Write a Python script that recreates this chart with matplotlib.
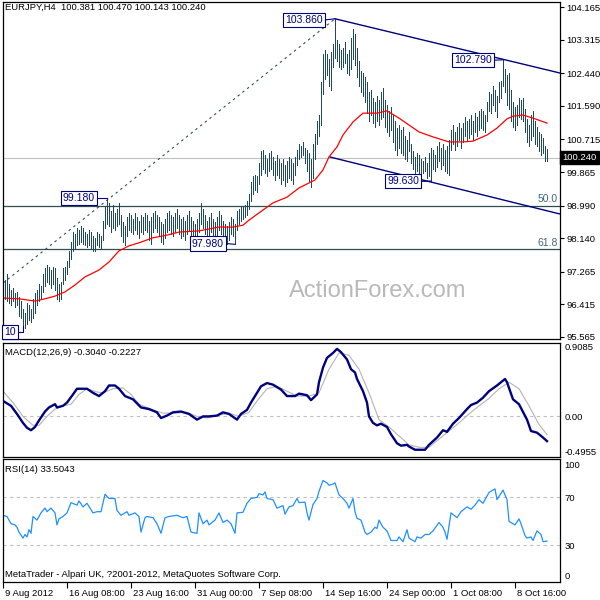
import matplotlib
matplotlib.use("Agg")
import matplotlib.pyplot as plt
from matplotlib.transforms import ScaledTranslation, blended_transform_factory

plt.rcParams["font.family"] = ["Liberation Sans", "DejaVu Sans"]
plt.rcParams["font.size"] = 6.8

# ---- EURJPY H4 price bars (high / low per bar) ----
bar_high = [
    97.30, 97.05, 97.20, 96.95, 96.80, 96.85, 96.70, 96.75, 96.60, 96.50,
    96.30, 96.20, 96.45, 96.40, 96.30, 96.55, 96.70, 96.80, 96.95, 96.90,
    97.20, 97.35, 97.45, 97.40, 97.30, 97.40, 97.35, 97.10, 96.95, 97.00,
    97.35, 97.40, 97.55, 97.80, 98.05, 98.30, 98.25, 98.40, 98.35, 98.45,
    98.40, 98.30, 98.25, 98.35, 98.30, 98.20, 98.15, 98.30, 98.25, 98.20,
    98.60, 98.95, 99.18, 99.05, 98.85, 99.00, 98.80, 98.90, 99.05, 98.75,
    98.55, 98.45, 98.70, 98.80, 98.75, 98.65, 98.80, 98.70, 98.60, 98.75,
    98.70, 98.80, 98.75, 98.60, 98.70, 98.80, 98.85, 98.75, 98.70, 98.55,
    98.50, 98.65, 98.80, 98.85, 98.75, 98.70, 98.80, 98.90, 98.75, 98.65,
    98.70, 98.60, 98.75, 98.85, 98.70, 98.60, 98.50, 98.65, 98.80, 99.05,
    98.90, 98.75, 98.60, 98.70, 98.80, 98.65, 98.55, 98.70, 98.85, 98.75,
    98.60, 98.50, 98.45, 98.55, 98.70, 98.65, 98.50, 98.85, 98.90, 98.95,
    98.95, 99.00, 99.10, 99.30, 99.60, 99.75, 99.80, 99.75, 100.10, 100.40,
    100.45, 100.30, 100.20, 100.35, 100.40, 100.25, 100.15, 100.30, 100.20, 100.10,
    100.20, 100.05, 100.15, 100.25, 100.20, 100.10, 100.25, 100.45, 100.60, 100.55,
    100.65, 100.50, 100.45, 100.35, 100.20, 100.60, 100.85, 101.20, 101.35, 102.20,
    102.95, 103.05, 102.95, 102.80, 103.00, 103.20, 103.86, 103.30, 103.20, 103.05,
    103.10, 103.25, 102.95, 103.05, 103.35, 103.60, 103.45, 103.10, 102.75, 102.50,
    102.45, 102.35, 102.20, 101.95, 102.00, 101.80, 101.70, 101.85, 101.75, 101.95,
    102.05, 101.75, 101.60, 101.45, 101.55, 101.35, 101.20, 101.00, 101.10, 100.95,
    101.05, 100.80, 100.70, 100.90, 100.60, 100.40, 100.25, 100.35, 100.30, 100.20,
    100.15, 100.25, 100.10, 100.35, 100.50, 100.45, 100.30, 100.55, 100.65, 100.50,
    100.60, 100.45, 100.55, 100.70, 100.95, 101.10, 100.90, 101.05, 101.15, 101.00,
    101.15, 101.30, 101.20, 101.25, 101.35, 101.20, 101.40, 101.30, 101.45, 101.50,
    101.45, 101.35, 101.70, 101.95, 101.90, 102.10, 102.00, 101.85, 102.20, 102.25,
    102.79, 102.55, 102.40, 102.45, 102.00, 101.70, 101.55, 101.60, 101.80, 101.75,
    101.80, 101.50, 101.25, 101.10, 101.35, 101.45, 101.20, 101.05, 100.90, 100.85,
    100.75, 100.55, 100.47,
]
bar_low = [
    96.90, 96.55, 96.50, 96.45, 96.40, 96.50, 96.35, 96.40, 96.10, 96.05,
    95.85, 95.80, 95.90, 96.00, 95.95, 96.05, 96.20, 96.40, 96.50, 96.55,
    96.75, 96.90, 97.00, 96.95, 96.85, 96.95, 96.80, 96.55, 96.50, 96.55,
    96.95, 97.05, 97.20, 97.40, 97.60, 97.80, 97.85, 97.95, 98.00, 98.05,
    98.00, 97.95, 97.90, 97.95, 97.85, 97.80, 97.80, 97.95, 97.90, 97.85,
    98.10, 98.40, 98.50, 98.45, 98.30, 98.40, 98.35, 98.45, 98.50, 98.20,
    98.05, 97.95, 98.20, 98.35, 98.30, 98.25, 98.35, 98.25, 98.15, 98.30,
    98.25, 98.35, 98.30, 98.10, 98.00, 98.30, 98.40, 98.30, 98.20, 98.05,
    98.00, 98.15, 98.30, 98.35, 98.25, 98.20, 98.30, 98.40, 98.25, 98.15,
    98.20, 98.10, 98.25, 98.35, 98.20, 98.10, 98.05, 98.15, 98.30, 98.50,
    98.40, 98.25, 98.10, 98.20, 98.30, 98.15, 98.05, 98.20, 98.35, 98.25,
    98.15, 98.05, 98.00, 98.10, 98.25, 98.20, 97.98, 98.35, 98.50, 98.60,
    98.65, 98.70, 98.75, 98.90, 99.10, 99.30, 99.40, 99.35, 99.55, 99.80,
    99.95, 99.85, 99.75, 99.90, 99.95, 99.80, 99.65, 99.80, 99.70, 99.55,
    99.65, 99.50, 99.60, 99.70, 99.65, 99.55, 99.80, 100.05, 100.20, 100.25,
    100.30, 100.10, 99.90, 99.60, 99.47, 99.70, 100.20, 100.60, 100.80, 101.10,
    101.90, 102.30, 102.40, 102.10, 102.00, 102.60, 102.85, 102.75, 102.60, 102.55,
    102.60, 102.70, 102.45, 102.40, 102.55, 102.80, 102.65, 102.35, 102.10, 101.95,
    101.85, 101.70, 101.40, 101.20, 101.35, 101.15, 101.05, 101.20, 101.10, 101.25,
    101.30, 101.05, 100.90, 100.80, 100.95, 100.65, 100.45, 100.30, 100.50, 100.35,
    100.30, 100.20, 100.15, 100.40, 100.10, 99.95, 99.85, 99.90, 99.80, 99.75,
    99.85, 99.90, 99.70, 99.75, 99.63, 99.95, 99.90, 100.00, 100.15, 99.95,
    100.05, 99.90, 99.85, 99.80, 100.45, 100.60, 100.45, 100.55, 100.70, 100.50,
    100.65, 100.80, 100.70, 100.75, 100.85, 100.70, 100.90, 100.80, 100.95, 101.00,
    100.95, 100.90, 101.20, 101.45, 101.40, 101.60, 101.45, 101.30, 101.70, 101.80,
    102.10, 101.95, 101.60, 101.50, 101.20, 101.05, 100.95, 101.10, 101.30, 101.25,
    101.20, 100.90, 100.65, 100.55, 100.70, 100.80, 100.60, 100.55, 100.40, 100.30,
    100.35, 100.15, 100.143,
]

# moving average (red), sampled at bar numbers
ma_bar = [0, 8, 16, 21, 26, 31, 36, 41, 48, 53, 58, 63, 68, 75, 82, 88, 98,
          108, 115, 120, 123, 128, 135, 142, 148, 153, 156, 160, 163, 167, 170,
          175, 180, 187, 192, 198, 208, 215, 223, 230, 235, 242, 247, 252, 255,
          260, 265, 272]
ma_price = [96.58, 96.56, 96.50, 96.56, 96.63, 96.74, 96.92, 97.13, 97.31,
            97.52, 97.81, 97.94, 98.02, 98.15, 98.22, 98.30, 98.33, 98.43,
            98.43, 98.48, 98.61, 98.80, 99.06, 99.21, 99.45, 99.58, 99.66,
            99.92, 100.26, 100.52, 100.83, 101.17, 101.40, 101.40, 101.46,
            101.27, 100.91, 100.78, 100.65, 100.65, 100.67, 100.83, 101.01,
            101.25, 101.32, 101.35, 101.27, 101.14]

price_ticks = [104.165, 103.315, 102.440, 101.590, 100.715, 99.865, 98.990,
               98.140, 97.265, 96.415, 95.565]
last_price = 100.240
fib_levels = [98.99, 97.85]
fib_names = ["50.0", "61.8"]

# ---- MACD(12,26,9) ----
macd_bar = [0, 4, 7, 10, 12, 14, 16, 18, 21, 23, 26, 27, 30, 32, 35, 37, 42,
            45, 48, 51, 53, 56, 58, 61, 65, 69, 73, 77, 79, 82, 85, 89, 93, 97,
            100, 103, 107, 110, 113, 117, 119, 122, 124, 127, 129, 132, 135,
            139, 142, 146, 148, 152, 154, 157, 158, 160, 162, 165, 167, 169,
            172, 174, 176, 177, 180, 182, 183, 185, 187, 189, 192, 194, 197,
            199, 202, 203, 206, 208, 211, 213, 217, 220, 222, 225, 228, 232,
            234, 237, 240, 243, 247, 249, 251, 252, 255, 258, 262, 264, 267,
            270, 272]
macd_main = [0.19, 0.13, 0.03, -0.08, -0.14, -0.17, -0.13, -0.05, 0.06, 0.11,
             0.15, 0.11, 0.13, 0.17, 0.27, 0.34, 0.34, 0.29, 0.25, 0.31, 0.38,
             0.38, 0.34, 0.25, 0.21, 0.11, 0.09, 0.05, -0.02, 0.01, 0.05, 0.06,
             0.03, -0.04, 0.00, 0.00, 0.01, 0.05, 0.03, -0.04, 0.03, 0.08,
             0.17, 0.29, 0.37, 0.41, 0.39, 0.33, 0.25, 0.25, 0.28, 0.26, 0.20,
             0.27, 0.42, 0.60, 0.72, 0.78, 0.83, 0.79, 0.70, 0.58, 0.54, 0.46,
             0.31, 0.17, 0.00, -0.08, -0.11, -0.09, -0.13, -0.22, -0.33, -0.36,
             -0.35, -0.37, -0.41, -0.41, -0.41, -0.35, -0.26, -0.17, -0.19,
             -0.09, -0.02, 0.09, 0.14, 0.17, 0.23, 0.31, 0.38, 0.42, 0.46,
             0.42, 0.21, 0.15, -0.04, -0.18, -0.20, -0.26, -0.304]
signal_bar = [0, 5, 10, 15, 18, 22, 26, 30, 34, 38, 42, 47, 50, 55, 60, 64,
              68, 75, 80, 85, 92, 97, 102, 107, 113, 118, 123, 127, 132, 137,
              142, 147, 153, 158, 163, 168, 173, 178, 183, 188, 193, 198, 203,
              208, 213, 218, 223, 228, 233, 238, 243, 248, 253, 258, 263, 268,
              272]
signal_line = [0.31, 0.17, 0.00, -0.11, -0.11, 0.00, 0.09, 0.13, 0.15, 0.27,
               0.34, 0.30, 0.29, 0.34, 0.35, 0.27, 0.15, 0.08, 0.04, 0.04,
               0.05, 0.00, -0.02, 0.01, 0.04, 0.00, 0.05, 0.19, 0.34, 0.37,
               0.31, 0.25, 0.25, 0.29, 0.58, 0.78, 0.75, 0.58, 0.29, -0.04,
               -0.13, -0.24, -0.35, -0.38, -0.38, -0.28, -0.18, -0.08, 0.03,
               0.13, 0.22, 0.34, 0.42, 0.34, 0.13, -0.10, -0.2227]
macd_ticks = [0.9085, 0.0, -0.4955]
macd_tick_labels = ["0.9085", "0.00", "-0.4955"]

# ---- RSI(14) ----
rsi_bar = [0, 2, 4, 6, 7, 8, 10, 11, 12, 13, 14, 15, 17, 19, 21, 22, 24, 26,
           27, 28, 30, 32, 34, 37, 38, 40, 42, 45, 47, 49, 51, 53, 56, 57, 59,
           62, 63, 66, 68, 69, 71, 72, 75, 77, 79, 81, 83, 87, 90, 92, 94, 97,
           98, 100, 102, 103, 106, 108, 110, 112, 114, 116, 117, 120, 122, 124,
           127, 128, 130, 131, 132, 135, 137, 140, 141, 143, 145, 147, 148,
           151, 152, 153, 155, 157, 158, 160, 162, 163, 165, 166, 168, 170,
           172, 173, 175, 176, 177, 179, 181, 182, 184, 186, 187, 188, 190,
           192, 194, 197, 198, 200, 202, 203, 206, 207, 209, 211, 213, 215,
           218, 220, 221, 222, 224, 227, 229, 232, 234, 236, 238, 240, 242,
           243, 246, 247, 250, 252, 253, 256, 258, 259, 261, 262, 264, 265,
           267, 269, 270, 272]
rsi_value = [55, 54, 48, 47, 45, 41, 36, 39, 37, 43, 40, 54, 51, 57, 61, 58,
             61, 57, 47, 52, 54, 57, 65.5, 63.5, 67, 62, 65, 57, 58, 58, 72.5,
             69, 69, 59, 55, 58, 55, 57, 54, 41, 53, 54, 53, 48, 40, 53, 54,
             55, 53, 54, 41, 40, 57, 48, 51, 47, 51, 57, 49, 51, 48, 40, 57,
             57.5, 65, 69, 70, 73, 72, 74.5, 69, 68, 61, 63, 56, 62, 63, 69,
             65.5, 66, 57, 51, 64, 69, 75, 84, 82, 80, 81, 82, 72, 69, 65, 61,
             69, 58, 52.5, 51, 41, 39, 41, 45, 44, 51, 45, 42, 34, 34, 37, 33,
             43, 36, 33, 37, 36, 39, 39, 42, 49, 45, 41, 35, 57, 53, 58, 62,
             60, 63.5, 68, 65, 71, 74, 77, 68, 76, 68, 50, 47, 52, 48, 38, 36,
             37, 34, 42, 39, 33, 33.5]
rsi_ticks = [100, 70, 30, 0]
rsi_levels = [70, 30]

date_bars = [0, 32, 64, 96, 128, 160, 192, 224, 256]
date_labels = ["9 Aug 2012", "16 Aug 08:00", "23 Aug 16:00", "31 Aug 00:00",
               "7 Sep 08:00", "14 Sep 16:00", "24 Sep 00:00", "1 Oct 08:00",
               "8 Oct 16:00"]

BAR_COLOR = "#1f4a5c"
NAVY = "#000080"

fig = plt.figure(figsize=(6, 6), dpi=100)


def panel(top, bottom, left=2.7, right=560):
    return fig.add_axes([left / 600, 1 - bottom / 600,
                         (right - left) / 600, (bottom - top) / 600])


ax = panel(1.5, 339)
ax_m = panel(342.5, 456.7)
ax_r = panel(459, 581.7)
xlim = (-0.15, 278.5)
for a in (ax, ax_m, ax_r):
    a.set_xlim(*xlim)
    a.set_xticks([])
    a.yaxis.tick_right()
    for s in a.spines.values():
        s.set_linewidth(0.9)
        s.set_color("black")

# ---- main price panel ----
ax.set_ylim(95.512, 104.31)
ax.axhline(last_price, color="#c0c0c0", lw=0.8)
for lvl, name in zip(fib_levels, fib_names):
    ax.axhline(lvl, color="#2f4f4f", lw=0.9)
    ax.text(277.5, lvl + 0.04, name, ha="right", va="bottom",
            color="#41657c", fontsize=7.5)

# fibonacci base (dotted)
ax.plot([0, 166], [96.97, 103.86], color="#2f4f4f", lw=0.8,
        ls=(0, (2.2, 3.2)))
# descending channel
ax.plot([166, 278.5], [103.86, 102.445], color=NAVY, lw=1.0)
ax.plot([163.5, 278.5], [100.256, 98.77], color=NAVY, lw=1.0)

ax.vlines(range(len(bar_high)), bar_low, bar_high, color=BAR_COLOR,
          lw=0.5, antialiased=False)
ax.plot(ma_bar, ma_price, color="red", lw=0.9)

box = dict(boxstyle="square,pad=0.2", fc="white", ec=NAVY, lw=0.8)
labels = [("103.860", 160, 103.83, [(161, 103.83), (166, 103.86)]),
          ("102.790", 244.5, 102.78, [(245.5, 102.78), (250, 102.79)]),
          ("99.180", 46, 99.19, [(47, 99.19), (52, 99.19), (52, 99.18)]),
          ("97.980", 110.5, 98.0, [(111.5, 98.0), (116, 97.98)]),
          ("99.630", 208, 99.62, [(209, 99.62), (214, 99.63)])]
for txt, x, y, conn in labels:
    ax.plot([c[0] for c in conn], [c[1] for c in conn], color=NAVY, lw=0.8)
    ax.text(x, y, txt, ha="right", va="center", color=NAVY, fontsize=7.5,
            bbox=box, zorder=5)
ax.plot([5, 10, 10], [95.695, 95.695, 95.85], color=NAVY, lw=0.8)
ax.text(0.7, 95.695, "10", ha="left", va="center", color=NAVY, fontsize=7.5,
        bbox=box, zorder=5)

ax.set_yticks(price_ticks)
ax.set_yticklabels([f"{v:.3f}" for v in price_ticks])
ax.tick_params(axis="y", length=3, width=0.8, pad=1.5, labelsize=6.8)

trans = blended_transform_factory(ax.transAxes, ax.transData)
ax.text(1.0, last_price, "100.240", transform=trans + ScaledTranslation(
    2.5 / 100, 0, fig.dpi_scale_trans), ha="left", va="center",
    color="white", fontsize=6.8, clip_on=False,
    bbox=dict(boxstyle="square,pad=0.25", fc="black", ec="black"))

ax.text(0.004, 0.995, "EURJPY,H4  100.381 100.470 100.143 100.240",
        transform=ax.transAxes, ha="left", va="top", fontsize=6.8)
ax.text(0.673, 0.142, "ActionForex.com", transform=ax.transAxes,
        ha="center", va="center", fontsize=17, color="#b9b9b9")

# ---- MACD panel ----
ax_m.set_ylim(-0.4955, 0.9085)
ax_m.axhline(0, color="#c0c0c0", lw=0.8, ls=(0, (3, 3)))
ax_m.plot(signal_bar, signal_line, color="#b4b4b4", lw=0.8)
ax_m.plot(macd_bar, macd_main, color=NAVY, lw=1.7)
ax_m.set_yticks(macd_ticks)
ax_m.set_yticklabels(macd_tick_labels)
ax_m.tick_params(axis="y", length=0, pad=3, labelsize=6.8)
tl = ax_m.get_yticklabels()
tl[0].set_va("top")
tl[-1].set_va("bottom")
ax_m.text(0.004, 0.955, "MACD(12,26,9) -0.3040 -0.2227",
          transform=ax_m.transAxes, ha="left", va="top", fontsize=6.8)

# ---- RSI panel ----
ax_r.set_ylim(-0.33, 101.9)
for lvl in rsi_levels:
    ax_r.axhline(lvl, color="#c0c0c0", lw=0.8, ls=(0, (3, 3)))
ax_r.plot(rsi_bar, rsi_value, color="#1e90ff", lw=0.9)
ax_r.set_yticks(rsi_ticks)
ax_r.set_yticklabels([str(v) for v in rsi_ticks])
ax_r.tick_params(axis="y", length=0, pad=3, labelsize=6.8)
tl = ax_r.get_yticklabels()
tl[0].set_va("top")
tl[-1].set_va("bottom")
ax_r.text(0.004, 0.955, "RSI(14) 33.5043", transform=ax_r.transAxes,
          ha="left", va="top", fontsize=6.8)
ax_r.text(0.004, 0.02,
          "MetaTrader - Alpari UK, ?2001-2012, MetaQuotes Software Corp.",
          transform=ax_r.transAxes, ha="left", va="bottom", fontsize=6.8)

ax_r.set_xticks(date_bars)
ax_r.set_xticklabels(date_labels)
ax_r.tick_params(axis="x", length=4, width=0.8, pad=1.5, labelsize=6.8)
for lab in ax_r.get_xticklabels():
    lab.set_ha("left")
    lab.set_transform(lab.get_transform() + ScaledTranslation(
        2 / 100, 0, fig.dpi_scale_trans))

fig.savefig("out.png", dpi=100)
